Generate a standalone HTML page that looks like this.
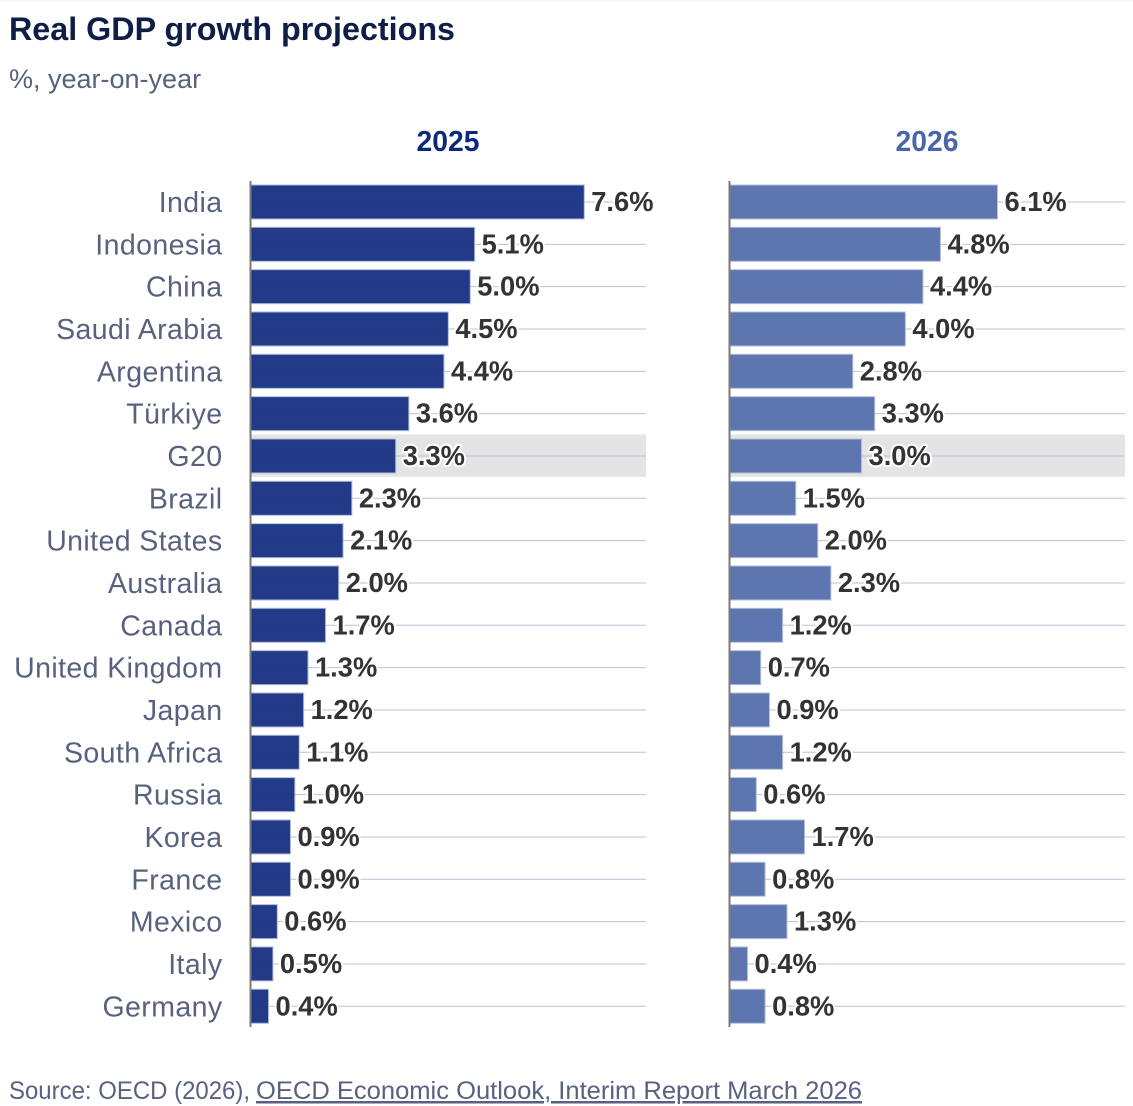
<!DOCTYPE html>
<html lang="en">
<head>
<meta charset="utf-8">
<title>Real GDP growth projections</title>
<style>
html,body{margin:0;padding:0;background:#fff;}
body{width:1133px;height:1106px;overflow:hidden;position:relative;}
svg{position:absolute;left:0;top:0;}
text{font-family:"Liberation Sans","Noto Sans CJK JP",sans-serif;}
</style>
</head>
<body>
<svg id="chart" width="1133" height="1106" viewBox="0 0 1133 1106">
  <rect x="0" y="0" width="1133" height="2" fill="#f5f5f5"/>
  <text x="9" y="40" font-size="32" font-weight="700" fill="#0f1e46" textLength="446" lengthAdjust="spacingAndGlyphs">Real GDP growth projections</text>
  <text x="9" y="88" font-size="27" fill="#58627e">%, year-on-year</text>
  <text x="9" y="1099" font-size="25" fill="#58627e" textLength="241" lengthAdjust="spacingAndGlyphs">Source: OECD (2026),</text>
  <text x="256" y="1099" font-size="25" fill="#58627e" text-decoration="underline" textLength="606" lengthAdjust="spacingAndGlyphs">OECD Economic Outlook, Interim Report March 2026</text>
</svg>
<script>
var categories = ["India","Indonesia","China","Saudi Arabia","Argentina","Türkiye","G20","Brazil","United States","Australia","Canada","United Kingdom","Japan","South Africa","Russia","Korea","France","Mexico","Italy","Germany"];
var values2025 = [7.6,5.1,5.0,4.5,4.4,3.6,3.3,2.3,2.1,2.0,1.7,1.3,1.2,1.1,1.0,0.9,0.9,0.6,0.5,0.4];
var values2026 = [6.1,4.8,4.4,4.0,2.8,3.3,3.0,1.5,2.0,2.3,1.2,0.7,0.9,1.2,0.6,1.7,0.8,1.3,0.4,0.8];
var highlightCategory = "G20";

var NS = "http://www.w3.org/2000/svg";
var svg = document.getElementById("chart");
var rowTop = 201.7, rowStep = 42.33, barH = 34, unit = 43.85, panelW = 395;
function yPos(i){ return rowTop + i * rowStep; }
function xLen(v){ return v * unit; }
function make(tag, attrs, parent){
  var el = document.createElementNS(NS, tag);
  for (var k in attrs) el.setAttribute(k, attrs[k]);
  (parent || svg).appendChild(el);
  return el;
}
function drawPanel(year, values, x0, fill, barStroke, headColor, headX){
  var head = make("text", {x: headX, y: 151, "text-anchor": "middle", "font-size": 28.3, "font-weight": 700, fill: headColor});
  
  
  head.textContent = year;
  categories.forEach(function(c, i){
    var y = yPos(i);
    if (c === highlightCategory) {
      var band = make("rect", {x: x0, y: y - rowStep / 2, width: panelW, height: rowStep, fill: "#e4e4e4"});
      
      
    }
    var grid = make("line", {x1: x0, x2: x0 + panelW, y1: y + 0.3, y2: y + 0.3, stroke: "#b7c3da", "stroke-width": 1});
    
    
  });
  categories.forEach(function(c, i){
    var y = yPos(i), v = values[i];
    var bar = make("rect", {x: x0, y: y - barH / 2 + 0.3, width: xLen(v), height: barH, fill: fill, "fill-opacity": 0.97, stroke: barStroke, "stroke-width": 1});
    
    
    var lab = make("text", {x: x0 + xLen(v) + 7, y: y + 9.3, "font-size": 27.3, "font-weight": 700, fill: "#333333", stroke: "#ffffff", "stroke-width": 4, "stroke-linejoin": "round", "paint-order": "stroke"});
    
    
    lab.textContent = v.toFixed(1) + "%";
  });
  var axis = make("line", {x1: x0 - 0.5, x2: x0 - 0.5, y1: 181, y2: 1027, stroke: "#7a7a7a", "stroke-width": 2});
  
  
}
categories.forEach(function(c, i){
  var t = make("text", {x: 222.5, y: yPos(i) + 10.3, "text-anchor": "end", "font-size": 28.5, "letter-spacing": 0.4, fill: "#58627e"});
  
  
  t.textContent = c;
});
drawPanel("2025", values2025, 251, "#1b3483", "#aebbd8", "#0b2a7a", 448);
drawPanel("2026", values2026, 730, "#5872ac", "#b4c0da", "#4a66a8", 927);
</script>
</body>
</html>
